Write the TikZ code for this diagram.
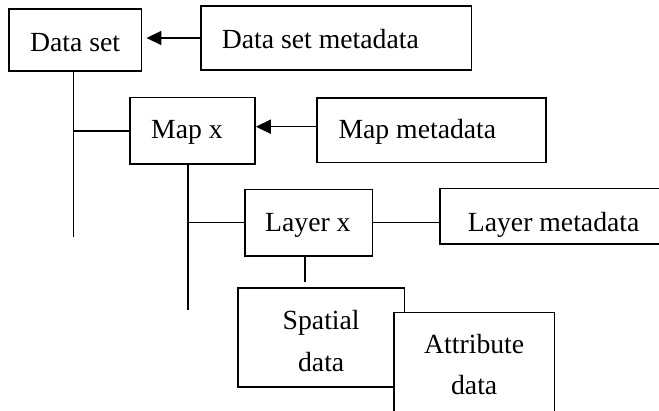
\documentclass[tikz,border=0pt]{standalone}
\usepackage{fontspec}
\setmainfont{Liberation Serif}
\usetikzlibrary{arrows.meta}
\begin{document}
\begin{tikzpicture}[x=1pt,y=-1pt,
  box/.style={draw, line width=1.6pt, fill=white, inner sep=0pt},
  lbl/.style={inner sep=0pt, font=\fontsize{27.7}{41.7}\selectfont},
  conn/.style={line width=1.6pt},
  arr/.style={conn, -{Triangle[length=15pt,width=14pt]}}]
\useasboundingbox (0,0) rectangle (659,411);
\clip (0,0) rectangle (659,411);
% boxes
\node[box, minimum width=132.7pt, minimum height=62pt] (ds) at (75.3,40) {};
\node[box, minimum width=270.7pt, minimum height=64pt] (dsm) at (336.3,38) {};
\node[box, minimum width=125pt, minimum height=66.3pt] (map) at (192.5,130.8) {};
\node[box, minimum width=229pt, minimum height=64.4pt] (mapm) at (431.5,130.5) {};
\node[box, minimum width=127.7pt, minimum height=66.7pt] (layer) at (308.8,222.7) {};
\node[box, minimum width=230pt, minimum height=55.7pt] (layerm) at (555,216.2) {};
% labels
\node[lbl, anchor=base west] (tds) at (30,51.7) {Data set};
\node[lbl, anchor=base west] (tdsm) at (221.7,48.3) {Data set metadata};
\node[lbl, anchor=base west] (tmap) at (151,138.3) {Map x};
\node[lbl, anchor=base west] (tmapm) at (338.3,138.3) {Map metadata};
\node[lbl, anchor=base west] (tlayer) at (265,231.7) {Layer x};
\node[lbl, anchor=base west] (tlayerm) at (467.7,231.7) {Layer metadata};
% spatial and attribute
\node[box, minimum width=166.3pt, minimum height=99pt] (sp) at (321.2,337.5) {};
\node[lbl, align=center, anchor=base] (tsp) at (321.2,371.7) {Spatial\\data};
\node[box, minimum width=160.3pt, minimum height=117.3pt] (attr) at (474.2,371.35) {};
\node[lbl, align=center, anchor=base] (tattr) at (474.2,395) {Attribute\\data};
% connector end points
\coordinate (e1) at (73.3,237);
\coordinate (e2) at (187.7,310);
\coordinate (e3) at (305,281.7);
% connectors
\draw[arr, shorten >=4pt] (dsm.west) -- (dsm.west -| ds.east);
\draw[arr] ([yshift=3.8pt]mapm.west) -- ([yshift=3.8pt]mapm.west -| map.east);
\draw[conn] (ds.south -| e1) -- (e1);
\draw[conn] (e1 |- map.west) -- (map.west);
\draw[conn] (map.south -| e2) -- (e2);
\draw[conn] (e2 |- layer.west) -- (layer.west);
\draw[conn] (layer.east) -- (layer.east -| layerm.west);
\draw[conn] (layer.south -| e3) -- (e3);
\end{tikzpicture}
\end{document}
